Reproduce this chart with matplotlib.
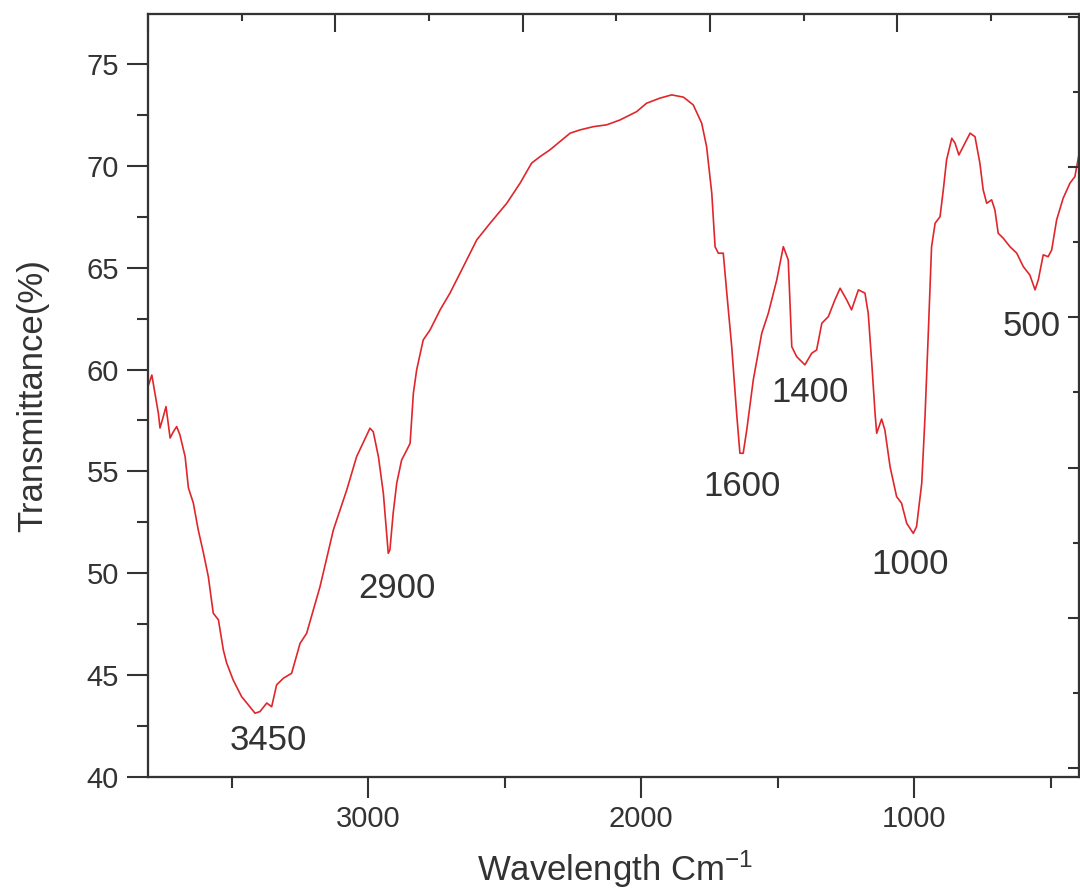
import numpy as np
import matplotlib
matplotlib.use("Agg")
import matplotlib.pyplot as plt
from matplotlib.ticker import MultipleLocator

plt.rcParams['font.family'] = ['Liberation Sans', 'DejaVu Sans']
plt.rcParams['mathtext.fontset'] = 'custom'
plt.rcParams['mathtext.rm'] = 'Liberation Sans'
plt.rcParams['mathtext.it'] = 'Liberation Sans'

# FTIR spectrum: wavenumber (cm-1) vs transmittance (%)
wavenumber = [
    3810, 3792, 3768, 3762, 3750, 3740, 3732, 3725, 3713, 3701,
    3689, 3670, 3658, 3640, 3622, 3603, 3585, 3567, 3548, 3530,
    3518, 3494, 3463, 3444, 3414, 3396, 3371, 3353, 3335, 3310,
    3280, 3249, 3225, 3176, 3127, 3078, 3042, 2993, 2981, 2962,
    2944, 2926, 2920, 2908, 2895, 2877, 2858, 2846, 2834, 2822,
    2798, 2773, 2736, 2700, 2663, 2602, 2553, 2492, 2443, 2401,
    2370, 2334, 2297, 2260, 2224, 2175, 2126, 2077, 2016, 1980,
    1931, 1888, 1845, 1809, 1778, 1760, 1741, 1729, 1717, 1699,
    1686, 1668, 1650, 1638, 1626, 1613, 1589, 1558, 1534, 1503,
    1479, 1461, 1448, 1430, 1400, 1375, 1357, 1338, 1314, 1290,
    1271, 1247, 1229, 1204, 1180, 1168, 1155, 1143, 1137, 1119,
    1107, 1088, 1064, 1046, 1027, 1003, 991, 972, 960, 948,
    936, 923, 905, 893, 881, 862, 850, 836, 814, 795,
    777, 759, 747, 734, 716, 704, 692, 673, 649, 624,
    600, 576, 557, 545, 527, 509, 496, 478, 454, 429,
    411, 393,
]
transmittance = [
    59.00, 59.73, 57.85, 57.13, 57.69, 58.18, 57.36, 56.64, 56.95, 57.20,
    56.79, 55.72, 54.19, 53.45, 52.13, 51.00, 49.83, 48.04, 47.71, 46.23,
    45.60, 44.76, 43.94, 43.63, 43.13, 43.21, 43.63, 43.45, 44.52, 44.85,
    45.09, 46.56, 47.05, 49.34, 52.13, 54.09, 55.72, 57.12, 56.95, 55.72,
    53.93, 50.98, 51.14, 52.95, 54.42, 55.56, 56.05, 56.38, 58.84, 59.98,
    61.45, 61.94, 62.93, 63.75, 64.73, 66.36, 67.18, 68.16, 69.15, 70.13,
    70.45, 70.78, 71.19, 71.60, 71.76, 71.92, 72.01, 72.25, 72.66, 73.07,
    73.32, 73.48, 73.37, 72.99, 72.09, 70.94, 68.65, 66.03, 65.71, 65.71,
    63.75, 61.12, 57.85, 55.89, 55.89, 57.03, 59.49, 61.78, 62.76, 64.40,
    66.03, 65.38, 61.12, 60.63, 60.23, 60.80, 60.96, 62.27, 62.60, 63.42,
    63.99, 63.42, 62.93, 63.91, 63.75, 62.76, 60.31, 57.85, 56.87, 57.57,
    57.03, 55.23, 53.76, 53.44, 52.45, 51.96, 52.29, 54.42, 57.69, 61.78,
    66.03, 67.18, 67.50, 68.82, 70.29, 71.35, 71.11, 70.53, 71.11, 71.60,
    71.43, 70.13, 68.82, 68.16, 68.33, 67.83, 66.69, 66.44, 66.03, 65.71,
    65.05, 64.64, 63.91, 64.40, 65.63, 65.54, 65.87, 67.34, 68.41, 69.15,
    69.47, 70.78,
]

# peak labels and where they sit
peak_labels = ['3450', '2900', '1600', '1400', '1000', '500']
label_x = [3366, 2894, 1630, 1381, 1015, 568]
label_y = [41.77, 49.23, 54.24, 58.85, 50.45, 62.09]

text_color = '#333333'
spine_color = '#333333'

fig = plt.figure(figsize=(10.8, 8.92), dpi=100)
ax = fig.add_axes([148 / 1080, 115 / 892, 931 / 1080, 763 / 892])

ax.plot(wavenumber, transmittance, color='#e0262b', linewidth=1.2)

for lbl, lx, ly in zip(peak_labels, label_x, label_y):
    ax.text(lx, ly, lbl, fontsize=25, color=text_color, ha='center', va='center')

ax.set_xlim(3806, 396)
ax.set_ylim(40, 77.45)
ax.xaxis.set_major_locator(MultipleLocator(1000))
ax.xaxis.set_minor_locator(MultipleLocator(500))
ax.yaxis.set_major_locator(MultipleLocator(5))
ax.yaxis.set_minor_locator(MultipleLocator(2.5))
ax.tick_params(which='major', direction='out', length=15, width=1.5,
               color=spine_color, labelsize=21, labelcolor=text_color, pad=6)
ax.tick_params(which='minor', direction='out', length=8, width=1.5, color=spine_color)
ax.tick_params(axis='x', which='major', pad=5)

ax.set_xlabel('Wavelength Cm$^{-1}$', fontsize=25, color=text_color)
ax.set_ylabel('Transmittance(%)', fontsize=25, color=text_color)
ax.xaxis.set_label_coords(0.502, -0.094)
ax.yaxis.set_label_coords(-0.106, 0.5)

for side in ax.spines.values():
    side.set_color(spine_color)
    side.set_linewidth(1.5)

# extra unlabeled axes along the top and right edges
top = ax.twiny()
top.set_xlim(0, 4.97)
top.xaxis.set_major_locator(MultipleLocator(1))
top.xaxis.set_minor_locator(MultipleLocator(0.5))
top.tick_params(which='major', direction='in', length=13, width=1.5,
                color=spine_color, labeltop=False)
top.tick_params(which='minor', direction='in', length=5, width=1.5, color=spine_color)

right = ax.twinx()
right.set_ylim(-0.06, 5.02)
right.yaxis.set_major_locator(MultipleLocator(1))
right.yaxis.set_minor_locator(MultipleLocator(0.5))
right.tick_params(which='major', direction='in', length=8, width=1.5,
                  color=spine_color, labelright=False)
right.tick_params(which='minor', direction='in', length=4, width=1.5, color=spine_color)

for a in (top, right):
    for side in a.spines.values():
        side.set_color(spine_color)
        side.set_linewidth(1.5)

fig.savefig('out.png', dpi=100)
